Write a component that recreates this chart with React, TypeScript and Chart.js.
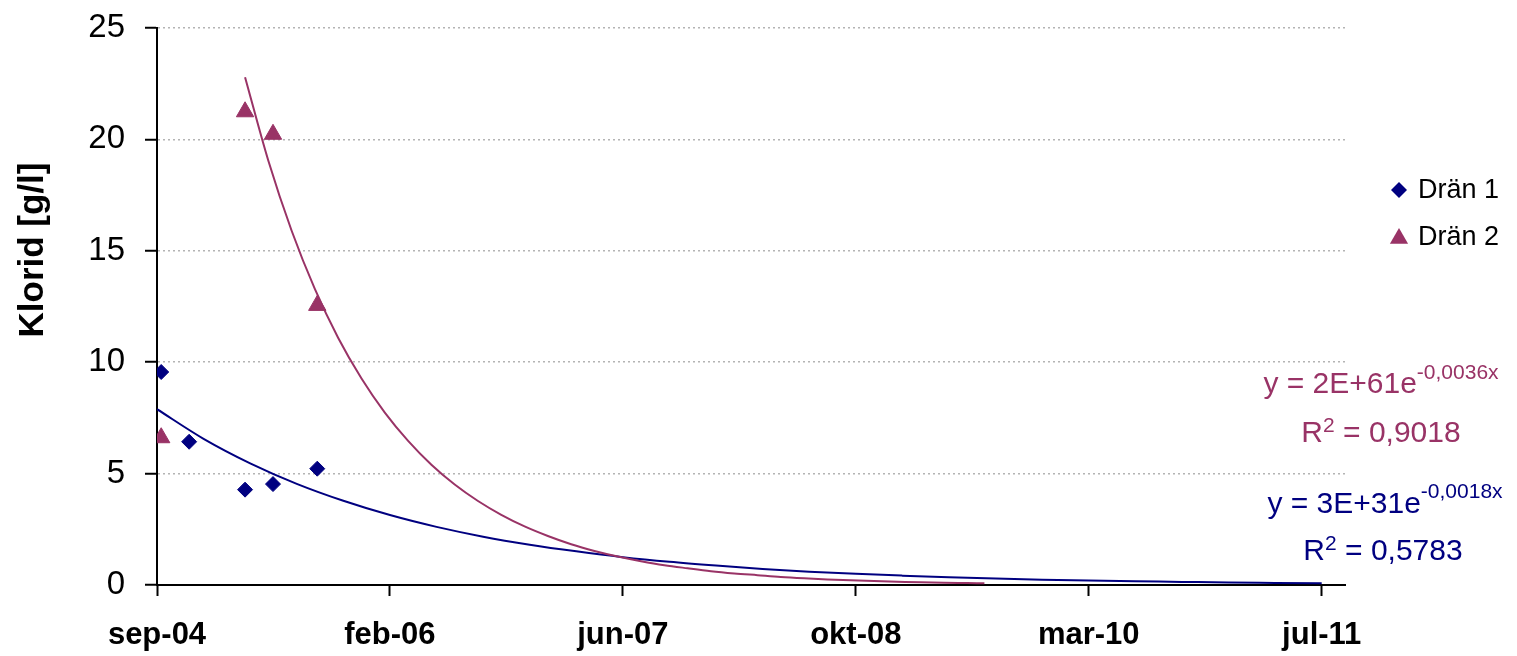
import React, { useEffect, useRef } from "react";
import { Chart, registerables } from "chart.js";

Chart.register(...registerables);

// ---- data ----
const xTickValues = [38250, 38750, 39250, 39750, 40250, 40750];
const xTickLabels = ["sep-04", "feb-06", "jun-07", "okt-08", "mar-10", "jul-11"];

const series1Label = "Drän 1";
const series2Label = "Drän 2";

const dran1Days = [38259, 38319, 38439, 38499, 38594];
const dran1Values = [9.56, 6.43, 4.28, 4.53, 5.22];

const dran2Days = [38259, 38439, 38499, 38594];
const dran2Values = [6.61, 21.24, 20.23, 12.55];

const trend1Days = [
  38250, 38350, 38450, 38550, 38650, 38750, 38850, 38950, 39050, 39150, 39250, 39350, 39450,
  39550, 39650, 39750, 39850, 39950, 40050, 40150, 40250, 40350, 40450, 40550, 40650, 40750,
];
const trend1Values = [
  7.89, 6.56, 5.46, 4.54, 3.78, 3.14, 2.61, 2.17, 1.81, 1.51, 1.25, 1.04, 0.87,
  0.72, 0.6, 0.5, 0.42, 0.35, 0.29, 0.24, 0.2, 0.17, 0.14, 0.11, 0.095, 0.08,
];

const trend2Days = [
  38439, 38489, 38539, 38589, 38639, 38689, 38739, 38789, 38839, 38889, 38939, 38989, 39039,
  39089, 39139, 39189, 39239, 39289, 39339, 39389, 39439, 39489, 39539, 39589, 39639, 39689,
  39739, 39789, 39839, 39889, 39939, 39989, 40026,
];
const trend2Values = [
  22.79, 19.04, 15.9, 13.28, 11.09, 9.27, 7.74, 6.47, 5.4, 4.51, 3.77, 3.15, 2.63,
  2.2, 1.83, 1.53, 1.28, 1.07, 0.89, 0.75, 0.62, 0.52, 0.44, 0.36, 0.3, 0.25,
  0.21, 0.18, 0.15, 0.12, 0.1, 0.086, 0.075,
];

const yTitle = "Klorid [g/l]";
const eq2Main = "y = 2E+61e";
const eq2Exp = "-0,0036x";
const eq2R2 = "0,9018";
const eq1Main = "y = 3E+31e";
const eq1Exp = "-0,0018x";
const eq1R2 = "0,5783";

const NAVY = "#000080";
const PLUM = "#993366";
const FONT = '"Liberation Sans", Arial, Helvetica, sans-serif';

function drawEquation(ctx: CanvasRenderingContext2D, main: string, sup: string, cx: number, baseline: number, supRise: number, color: string) {
  ctx.fillStyle = color;
  ctx.textBaseline = "alphabetic";
  ctx.textAlign = "left";
  ctx.font = `30px ${FONT}`;
  const wMain = ctx.measureText(main).width;
  ctx.font = `21px ${FONT}`;
  const wSup = ctx.measureText(sup).width;
  const x0 = cx - (wMain + wSup) / 2;
  ctx.font = `30px ${FONT}`;
  ctx.fillText(main, x0, baseline);
  ctx.font = `21px ${FONT}`;
  ctx.fillText(sup, x0 + wMain, baseline - supRise);
}

function drawR2(ctx: CanvasRenderingContext2D, value: string, cx: number, baseline: number, color: string) {
  ctx.fillStyle = color;
  ctx.textBaseline = "alphabetic";
  ctx.textAlign = "left";
  const a = "R";
  const b = "2";
  const c = " = " + value;
  ctx.font = `30px ${FONT}`;
  const wa = ctx.measureText(a).width;
  const wc = ctx.measureText(c).width;
  ctx.font = `21px ${FONT}`;
  const wb = ctx.measureText(b).width;
  const x0 = cx - (wa + wb + wc) / 2;
  ctx.font = `30px ${FONT}`;
  ctx.fillText(a, x0, baseline);
  ctx.font = `21px ${FONT}`;
  ctx.fillText(b, x0 + wa, baseline - 10);
  ctx.font = `30px ${FONT}`;
  ctx.fillText(c, x0 + wa + wb, baseline);
}

const overlayPlugin = {
  id: "overlay",
  afterDraw(chart: any) {
    const ctx: CanvasRenderingContext2D = chart.ctx;
    ctx.save();
    // y-axis title
    ctx.save();
    ctx.translate(43, 250);
    ctx.rotate(-Math.PI / 2);
    ctx.font = `bold 35px ${FONT}`;
    ctx.fillStyle = "#000";
    ctx.textAlign = "center";
    ctx.textBaseline = "alphabetic";
    ctx.fillText(yTitle, 0, 0);
    ctx.restore();

    // legend
    ctx.fillStyle = NAVY;
    ctx.beginPath();
    const dx = 1399, dy = 190, dr = 8;
    ctx.moveTo(dx - dr, dy);
    ctx.lineTo(dx, dy - dr);
    ctx.lineTo(dx + dr, dy);
    ctx.lineTo(dx, dy + dr);
    ctx.closePath();
    ctx.fill();

    ctx.fillStyle = PLUM;
    ctx.beginPath();
    const tx = 1399, ty = 238.5, tr = 10.5;
    ctx.moveTo(tx, ty - tr);
    ctx.lineTo(tx + tr * Math.sin((2 * Math.PI) / 3), ty + tr / 2);
    ctx.lineTo(tx - tr * Math.sin((2 * Math.PI) / 3), ty + tr / 2);
    ctx.closePath();
    ctx.fill();

    ctx.fillStyle = "#000";
    ctx.font = `27px ${FONT}`;
    ctx.textAlign = "left";
    ctx.textBaseline = "alphabetic";
    ctx.fillText(series1Label, 1418, 198);
    ctx.fillText(series2Label, 1418, 245);

    // equations
    drawEquation(ctx, eq2Main, eq2Exp, 1381, 393, 14, PLUM);
    drawR2(ctx, eq2R2, 1381, 442, PLUM);
    drawEquation(ctx, eq1Main, eq1Exp, 1385, 513, 15, NAVY);
    drawR2(ctx, eq1R2, 1383, 560, NAVY);
    ctx.restore();
  },
};

export default function App() {
  const canvasRef = useRef<HTMLCanvasElement | null>(null);

  useEffect(() => {
    const canvas = canvasRef.current;
    if (!canvas) return;
    const chart = new Chart(canvas, {
      type: "scatter",
      data: {
        datasets: [
          {
            label: series1Label,
            data: dran1Days.map((d, i) => ({ x: d, y: dran1Values[i] })),
            pointStyle: "rectRot",
            pointRadius: 7.5,
            pointBackgroundColor: NAVY,
            pointBorderColor: NAVY,
            pointBorderWidth: 1,
            showLine: false,
            order: 1,
          },
          {
            label: series2Label,
            data: dran2Days.map((d, i) => ({ x: d, y: dran2Values[i] })),
            pointStyle: "triangle",
            pointRadius: 10,
            pointBackgroundColor: PLUM,
            pointBorderColor: PLUM,
            pointBorderWidth: 1,
            showLine: false,
            order: 0,
          },
          {
            label: "trend1",
            data: trend1Days.map((d, i) => ({ x: d, y: trend1Values[i] })),
            showLine: true,
            pointRadius: 0,
            borderColor: NAVY,
            borderWidth: 2,
            cubicInterpolationMode: "monotone",
            order: 3,
          } as any,
          {
            label: "trend2",
            data: trend2Days.map((d, i) => ({ x: d, y: trend2Values[i] })),
            showLine: true,
            pointRadius: 0,
            borderColor: PLUM,
            borderWidth: 2,
            cubicInterpolationMode: "monotone",
            order: 2,
          } as any,
        ],
      },
      options: {
        responsive: false,
        animation: false,
        events: [],
        layout: { padding: { top: 28, right: 172, bottom: 0, left: 0 } },
        plugins: {
          legend: { display: false },
          tooltip: { enabled: false },
          title: { display: false },
        },
        scales: {
          x: {
            type: "linear",
            min: 38250,
            max: 40800,
            afterBuildTicks: (axis: any) => {
              axis.ticks = xTickValues.map((v) => ({ value: v }));
            },
            afterFit: (s: any) => {
              s.height = 71;
              s.paddingLeft = 0;
              s.paddingRight = 0;
            },
            ticks: {
              autoSkip: false,
              maxRotation: 0,
              color: "#000",
              padding: 21,
              font: { family: FONT, size: 31, weight: "bold" },
              callback: (v: any) => {
                const i = xTickValues.indexOf(Number(v));
                return i >= 0 ? xTickLabels[i] : "";
              },
            },
            grid: {
              drawOnChartArea: false,
              drawTicks: true,
              tickLength: 11,
              tickColor: "#000",
              tickWidth: 2,
            },
            border: { display: true, color: "#000", width: 2 },
          },
          y: {
            min: 0,
            max: 25,
            afterFit: (s: any) => {
              s.width = 157;
              s.paddingTop = 0;
              s.paddingBottom = 0;
            },
            ticks: {
              stepSize: 5,
              color: "#000",
              padding: 20,
              font: { family: FONT, size: 33 },
            },
            grid: {
              color: "#b4b4b4",
              lineWidth: 1.5,
              drawTicks: true,
              tickLength: 12,
              tickColor: "#000",
              tickWidth: 2,
              tickBorderDash: [],
            } as any,
            border: { display: true, color: "#000", width: 2, dash: [2, 3] } as any,
          },
        },
      } as any,
      plugins: [overlayPlugin],
    });
    return () => chart.destroy();
  }, []);

  return (
    <div style={{ position: "fixed", left: 0, top: 0, width: 1517, height: 656, background: "#fff" }}>
      <canvas ref={canvasRef} width={1517} height={656} style={{ width: 1517, height: 656, display: "block" }} />
    </div>
  );
}
